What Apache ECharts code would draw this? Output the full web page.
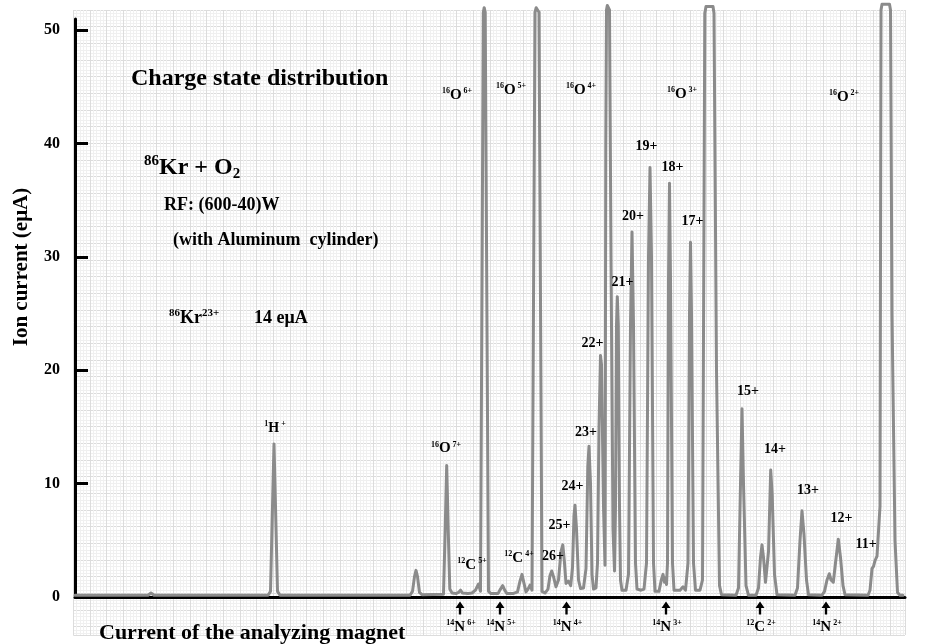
<!DOCTYPE html>
<html><head><meta charset="utf-8">
<script src="https://cdn.jsdelivr.net/npm/echarts@6/dist/echarts.min.js"></script>
<style>html,body{margin:0;padding:0;background:#fff}#c{width:928px;height:644px}</style>
</head><body><div id="c"></div>
<script>
// Trace of the ion current (eμA) versus analyzing-magnet current (arbitrary units)
const trace = [
[75,0.15],[148,0.15],[151,0.35],[154,0.15],[268,0.15],[270.5,0.5],[272.5,8],[274,13.5],[275.5,8],[277.5,0.5],[280,0.15],
[410,0.15],[412.5,0.5],[414.5,1.8],[416,2.35],[417.5,1.8],[419.5,0.4],[422,0.2],
[443.5,0.25],[445.2,6],[446.7,11.6],[448.2,6],[449.8,0.7],[452,0.35],[456,0.3],[458.5,0.4],[460.5,0.6],[462.5,0.35],[468,0.3],[472,0.35],[475.5,0.6],[478.5,1.15],[480.5,0.5],
[482,0.45],[483.3,51.6],[484.2,52],[485.2,51.6],[488.5,0.5],[491,0.3],
[498,0.3],[500.5,0.7],[502.7,1.0],[504.7,0.6],[507,0.3],[513,0.3],[517.5,0.45],[520,1.4],[522,2.0],[524,1.2],[526,0.45],[528,0.7],[530,1.05],[532,0.6],[533.5,0.5],
[535,51.6],[536.2,52],[537.8,52],[539,51.6],[542,0.5],[545,0.35],
[548,0.7],[550,1.9],[551.7,2.3],[553.5,1.8],[556,0.9],[558.5,1.5],[561,4.0],[562.8,4.6],[564.5,3.0],[566,1.2],[568.3,1.4],[570.7,1.0],[572.5,2.6],[574,7.2],[575,8.1],[576.5,6.0],[578.5,1.5],[580.5,0.75],[583.5,0.8],
[586,2.5],[587.8,11.5],[589,13.3],[590.5,10],[592,2.0],[593.5,0.7],[596,0.8],[597.5,3],[599,15],[600.5,21.3],[601.5,20.5],[603.5,8],[605,2.8],
[605.8,40],[606.5,51.8],[607.3,52.2],[608.7,52.2],[609.5,51.8],[611,30],[613,6],[614.5,2.3],
[615.5,8],[616.5,24],[617.3,26.5],[618.3,24],[619.5,8],[620.5,1.5],[622,0.6],[626,0.6],
[628.5,2],[630.5,24],[632,32.2],[633.5,24],[635.5,3],[637,0.7],[641,0.6],[644,0.7],
[646.5,3],[648.5,30],[650,37.9],[651.5,30],[653.5,3],[655,0.5],[659,0.5],
[661.3,1.5],[663,2.0],[664.5,1.3],[665.5,1.7],[666.5,1.1],
[667.5,3],[668.5,28],[669.5,36.5],[670.5,28],[672.5,3],[674,0.6],[680,0.6],[683,0.9],[685.5,0.6],
[688,3],[689.5,25],[690.5,31.3],[691.5,25],[693.5,3],[695.5,0.6],[700,0.6],[702.5,1.5],
[704.8,51.5],[706,52.1],[713,52.1],[714,51.5],[716.5,20],[719.5,1],[721.5,0.2],
[736,0.15],[738.5,0.8],[740.5,10],[742,16.6],[743.5,10],[746,1],[748.5,0.15],
[756,0.15],[758.5,0.8],[760.5,3.5],[762,4.6],[763.5,3.5],[765.5,1.3],[766.7,1.3],[768.5,4],[770.7,11.2],[772.2,9],[774.5,2],[777,0.2],
[795,0.15],[797.5,0.8],[800,5],[802,7.6],[804,5.5],[806.5,1.5],[808.5,0.2],
[822,0.15],[824.5,0.5],[827,1.5],[829.3,2.05],[831,1.5],[833.3,1.3],[835.5,3],[838.3,5.1],[840.5,3.5],[843,1],[845,0.2],
[868,0.15],[870,0.6],[872,2.5],[873.5,2.7],[875,3.2],[877,3.6],[878.5,3.7],[880,8],
[881,51.8],[882,52.3],[889.5,52.3],[890.5,51.8],[892,25],[895,5],[897.5,0.4],[900,0.15],[903,0.15]
];

// Peak labels: [magnet current, ion current, label]
const peakLabels = [
[275,14.9,'{s|1}{c|H}{s| +}'],
[446,13.1,'{s|16}{o|O}{s| 7+}'],
[472,2.82,'{s|12}{o|C}{s| 5+}'],
[519,3.41,'{s|12}{o|C}{s| 4+}'],
[553,3.56,'{c|26+}'],
[559.5,6.35,'{c|25+}'],
[572.5,9.73,'{c|24+}'],
[586,14.5,'{c|23+}'],
[592.5,22.4,'{c|22+}'],
[622.5,27.8,'{c|21+}'],
[633,33.6,'{c|20+}'],
[646.5,39.8,'{c|19+}'],
[672.5,37.9,'{c|18+}'],
[692.5,33.1,'{c|17+}'],
[748,18.1,'{c|15+}'],
[775,13.0,'{c|14+}'],
[808,9.44,'{c|13+}'],
[841.5,6.94,'{c|12+}'],
[866,4.68,'{c|11+}'],
[457,44.3,'{s|16}{o|O}{s| 6+}'],
[511,44.7,'{s|16}{o|O}{s| 5+}'],
[581,44.7,'{s|16}{o|O}{s| 4+}'],
[682,44.4,'{s|16}{o|O}{s| 3+}'],
[844,44.1,'{s|16}{o|O}{s| 2+}']
];

// Marked (arrowed) positions below the axis and their ion names
const arrowX = [460, 500, 566.5, 666, 760, 826];
const arrowNames = ['{s|14}{o|N}{s| 6+}','{s|14}{o|N}{s| 5+}','{s|14}{o|N}{s| 4+}','{s|14}{o|N}{s| 3+}','{s|12}{o|C}{s| 2+}','{s|14}{o|N}{s| 2+}'];

const yTicks = [0, 10, 20, 30, 40, 50];

const FONT = '"Liberation Serif","Times New Roman",serif';
const INK = '#000';

const chart = echarts.init(document.getElementById('c'), null, {renderer: 'canvas'});

const richPeak = {
  c: {fontFamily: FONT, fontWeight: 'bold', fontSize: 14, color: INK, lineHeight: 16},
  o: {fontFamily: FONT, fontWeight: 'bold', fontSize: 15, color: INK, lineHeight: 16},
  s: {fontFamily: FONT, fontWeight: 'bold', fontSize: 8, color: INK, lineHeight: 9, verticalAlign: 'top'}
};

const paperAxisCommon = {
  type: 'value', interval: 1,
  axisLine: {show: false}, axisTick: {show: false}, axisLabel: {show: false},
  splitLine: {show: true, lineStyle: {color: '#dcdcdc', width: 1}},
  minorTick: {show: false, splitNumber: 5},
  minorSplitLine: {show: true, lineStyle: {color: '#f0f0f0', width: 1}}
};

const labelBase = {show: true, position: 'inside', color: INK, opacity: 1, textBorderWidth: 0, rich: richPeak};

const option = {
  backgroundColor: '#fff',
  animation: false,
  grid: [
    {left: 73.3, right: 23, top: 10, bottom: 9, show: false},
    {left: 75, right: 23, top: 19, bottom: 47, show: false}
  ],
  xAxis: [
    Object.assign({gridIndex: 0, min: 0, max: 49.9}, paperAxisCommon),
    {gridIndex: 1, type: 'value', min: 75, max: 905,
     axisLine: {show: true, lineStyle: {color: '#000', width: 3}},
     axisTick: {show: false}, axisLabel: {show: false}, splitLine: {show: false}}
  ],
  yAxis: [
    Object.assign({gridIndex: 0, min: 0, max: 37.5, inverse: true}, paperAxisCommon),
    {gridIndex: 1, type: 'value', min: 0, max: 51, interval: 10,
     axisLine: {show: true, lineStyle: {color: '#000', width: 3}},
     axisTick: {show: true, inside: true, length: 13, lineStyle: {color: '#000', width: 3}, customValues: yTicks},
     axisLabel: {show: true, customValues: yTicks, fontFamily: FONT, fontWeight: 'bold', fontSize: 16, color: '#000', margin: 15},
     splitLine: {show: false}}
  ],
  series: [
    {type: 'line', xAxisIndex: 1, yAxisIndex: 1, data: trace, showSymbol: false, clip: false,
     lineStyle: {color: '#8b8b8b', width: 3, join: 'round', cap: 'round'}, z: 3, silent: true},
    {type: 'scatter', xAxisIndex: 1, yAxisIndex: 1, clip: false, symbolSize: 1,
     itemStyle: {color: 'rgba(255,255,255,0)', opacity: 1}, z: 5, silent: true,
     label: labelBase,
     data: peakLabels.map(p => ({value: [p[0], p[1]], label: {formatter: p[2]}}))},
    {type: 'scatter', xAxisIndex: 1, yAxisIndex: 1, clip: false,
     symbol: 'path://M5,0 L10,7 L6.3,7 L6.3,14 L3.7,14 L3.7,7 L0,7 Z', symbolSize: [9, 13],
     itemStyle: {color: '#000', opacity: 1}, z: 5, silent: true,
     data: arrowX.map(x => [x, -0.97])},
    {type: 'scatter', xAxisIndex: 1, yAxisIndex: 1, clip: false, symbolSize: 1,
     itemStyle: {color: 'rgba(255,255,255,0)', opacity: 1}, z: 5, silent: true,
     label: labelBase,
     data: arrowX.map((x, i) => ({value: [x + 1, -2.65], label: {formatter: arrowNames[i]}}))}
  ],
  graphic: [
    {type: 'text', x: 131, y: 79, z: 10, style: {text: 'Charge state distribution', font: 'bold 24px ' + FONT, fill: INK, verticalAlign: 'middle'}},
    {type: 'text', x: 144, y: 168, z: 10, style: {
      text: '{s|86}{b|Kr + O}{d|2}', verticalAlign: 'middle',
      rich: {
        b: {fontFamily: FONT, fontWeight: 'bold', fontSize: 24, fill: INK, lineHeight: 28},
        s: {fontFamily: FONT, fontWeight: 'bold', fontSize: 15, fill: INK, lineHeight: 15, verticalAlign: 'top'},
        d: {fontFamily: FONT, fontWeight: 'bold', fontSize: 15, fill: INK, lineHeight: 14, verticalAlign: 'bottom'}
      }}},
    {type: 'text', x: 164, y: 205, z: 10, style: {text: 'RF: (600-40)W', font: 'bold 18px ' + FONT, fill: INK, verticalAlign: 'middle'}},
    {type: 'text', x: 173, y: 240, z: 10, style: {text: '(with Aluminum  cylinder)', font: 'bold 18px ' + FONT, fill: INK, verticalAlign: 'middle'}},
    {type: 'text', x: 169, y: 318, z: 10, style: {
      text: '{s|86}{b|Kr}{s|23+}', verticalAlign: 'middle',
      rich: {
        b: {fontFamily: FONT, fontWeight: 'bold', fontSize: 18, fill: INK, lineHeight: 20},
        s: {fontFamily: FONT, fontWeight: 'bold', fontSize: 11, fill: INK, lineHeight: 11, verticalAlign: 'top'}
      }}},
    {type: 'text', x: 254, y: 318, z: 10, style: {text: '14 eμA', font: 'bold 18px ' + FONT, fill: INK, verticalAlign: 'middle'}},
    {type: 'text', x: 22, y: 267, rotation: Math.PI / 2, z: 10, style: {text: 'Ion current (eμA)', font: 'bold 21px ' + FONT, fill: INK, align: 'center', verticalAlign: 'middle'}},
    {type: 'text', x: 99, y: 633, z: 10, style: {text: 'Current of the analyzing magnet', font: 'bold 22px ' + FONT, fill: INK, verticalAlign: 'middle'}}
  ]
};
chart.setOption(option);
</script></body></html>
